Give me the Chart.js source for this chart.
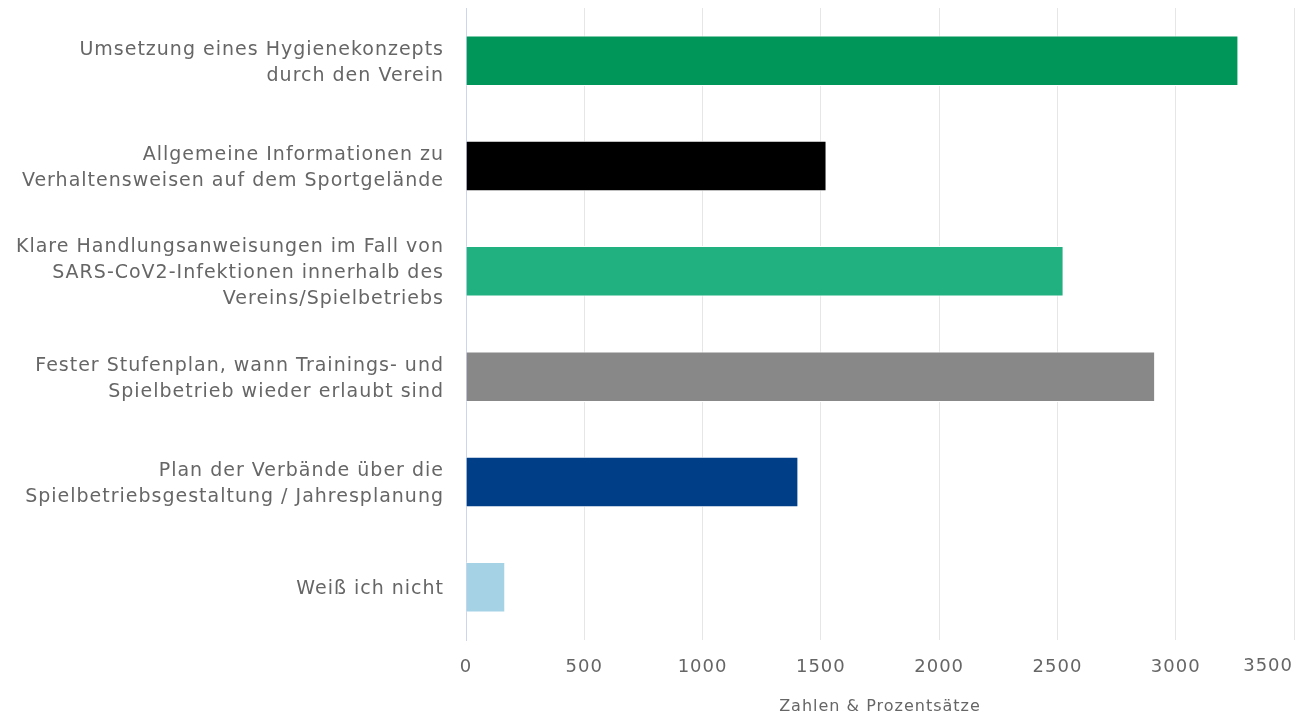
<!DOCTYPE html>
<html>
<head>
<meta charset="utf-8">
<script src="https://cdn.jsdelivr.net/npm/chart.js@4.4.0/dist/chart.umd.min.js"></script>
<style>
  html, body { margin: 0; padding: 0; background: #fff; }
  #wrap { width: 1301px; height: 717px; position: relative; }
</style>
</head>
<body>
<div id="wrap"><canvas id="chart"></canvas></div>
<script>
// categories (multi-line labels as in the original)
const categories = [
  ['Umsetzung eines Hygienekonzepts', 'durch den Verein'],
  ['Allgemeine Informationen zu', 'Verhaltensweisen auf dem Sportgelände'],
  ['Klare Handlungsanweisungen im Fall von', 'SARS-CoV2-Infektionen innerhalb des', 'Vereins/Spielbetriebs'],
  ['Fester Stufenplan, wann Trainings- und', 'Spielbetrieb wieder erlaubt sind'],
  ['Plan der Verbände über die', 'Spielbetriebsgestaltung / Jahresplanung'],
  ['Weiß ich nicht']
];
const values = [3265, 1524, 2526, 2913, 1405, 166];
const barColors = ['#009659', '#000000', '#21b07f', '#888888', '#003f87', '#a6d2e6'];
const xTicks = [0, 500, 1000, 1500, 2000, 2500, 3000, 3500];

const FONT = 'DejaVu Sans';
const TEXT = '#666666';
const SPACING = '1px';

// the original text is a bit spaced out; canvas resets state on resize so set it each time
const letterSpacing = {
  id: 'letterSpacing',
  beforeUpdate(chart) { chart.ctx.letterSpacing = SPACING; },
  beforeLayout(chart) { chart.ctx.letterSpacing = SPACING; },
  beforeDraw(chart) { chart.ctx.letterSpacing = SPACING; }
};

// last tick label is pulled inside the canvas, like the original
const lastTickLabel = {
  id: 'lastTickLabel',
  afterDraw(chart) {
    const x = chart.scales.x;
    const v = xTicks[xTicks.length - 1];
    const ctx = chart.ctx;
    ctx.save();
    ctx.letterSpacing = SPACING;
    ctx.font = '18px "' + FONT + '"';
    ctx.fillStyle = TEXT;
    ctx.textAlign = 'right';
    ctx.textBaseline = 'middle';
    ctx.fillText(String(v), x.getPixelForValue(v) - 1, 666);
    ctx.restore();
  }
};

new Chart(document.getElementById('chart'), {
  type: 'bar',
  data: {
    labels: categories,
    datasets: [{
      data: values,
      backgroundColor: barColors,
      borderColor: '#ffffff',
      borderWidth: 1,
      barPercentage: 0.48,
      categoryPercentage: 1
    }]
  },
  options: {
    indexAxis: 'y',
    responsive: true,
    maintainAspectRatio: false,
    animation: false,
    layout: { padding: { top: 8, right: 7, left: 0, bottom: 0 } },
    plugins: {
      legend: { display: false },
      tooltip: { enabled: false }
    },
    scales: {
      x: {
        min: 0,
        max: 3500,
        afterBuildTicks: (scale) => { scale.ticks = xTicks.map(v => ({ value: v })); },
        afterFit: (scale) => {
          scale.height = 77;
          scale.paddingLeft = 0;
          scale.paddingRight = 0;
        },
        grid: {
          drawTicks: false,
          color: (c) => (c.tick && c.tick.value === 0 ? '#ccd6eb' : '#e6e6e6'),
          lineWidth: 1
        },
        border: { display: false },
        ticks: {
          padding: 17,
          color: TEXT,
          font: { family: FONT, size: 18 },
          maxRotation: 0,
          callback: (v) => (v === xTicks[xTicks.length - 1] ? '' : String(v))
        },
        title: {
          display: true,
          text: 'Zahlen & Prozentsätze',
          color: TEXT,
          font: { family: FONT, size: 16 },
          padding: { top: 10, bottom: 1 }
        }
      },
      y: {
        afterFit: (scale) => {
          scale.width = 466;
          scale.paddingTop = 0;
          scale.paddingBottom = 0;
        },
        grid: { display: false, drawTicks: false },
        border: { display: true, color: '#ccd6eb', width: 1 },
        ticks: {
          padding: 22,
          labelOffset: 2,
          color: TEXT,
          font: { family: FONT, size: 19, lineHeight: 26 / 19 }
        }
      }
    }
  },
  plugins: [letterSpacing, lastTickLabel]
});
</script>
</body>
</html>
